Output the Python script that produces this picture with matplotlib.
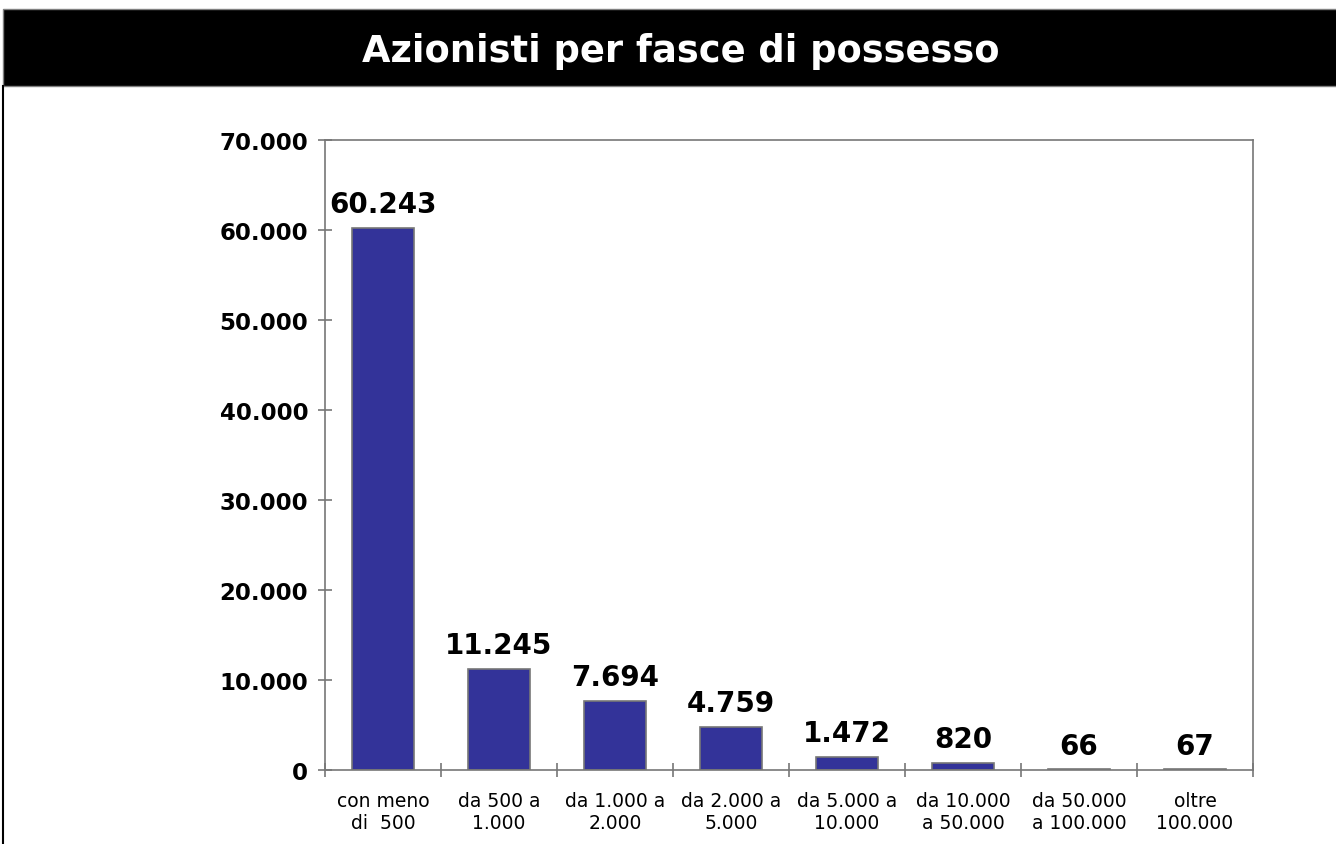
import matplotlib.pyplot as plt
import numpy as np
from matplotlib.patches import Rectangle
from matplotlib.lines import Line2D

categories = ["con meno\ndi  500", "da 500 a\n1.000", "da 1.000 a\n2.000", "da 2.000 a\n5.000",
              "da 5.000 a\n10.000", "da 10.000\na 50.000", "da 50.000\na 100.000", "oltre\n100.000"]
holders = [60243, 11245, 7694, 4759, 1472, 820, 66, 67]
y_ticks = [0, 10000, 20000, 30000, 40000, 50000, 60000, 70000]


def fmt_it(v):
    return f"{v:,}".replace(",", ".")


W, H = 1336, 845
fig = plt.figure(figsize=(W / 100, H / 100), dpi=100)
plt.rcParams['font.family'] = 'DejaVu Sans'

# title banner
fig.patches.append(Rectangle((3 / W, 1 - 87 / H), 1, 77 / H, transform=fig.transFigure,
                             facecolor='black', edgecolor='#808080', lw=1))
fig.text(681 / W, 1 - 51 / H, "Azionisti per fasce di possesso", color='white',
         fontsize=26.5, fontweight='bold', ha='center', va='center')
fig.lines.append(Line2D([3 / W, 3 / W], [0, 1 - 87 / H], transform=fig.transFigure,
                        color='black', lw=1.5))

ax = fig.add_axes([325 / W, 1 - 771 / H, (1253 - 325) / W, (771 - 141) / H])
x = np.arange(len(categories))
ax.bar(x, holders, width=0.53, color='#333399', edgecolor='#777777', lw=1.2)
for xi, v in zip(x, holders):
    ax.annotate(fmt_it(v), (xi, v), xytext=(0, 7), textcoords='offset points',
                ha='center', va='bottom', fontsize=20, fontweight='bold')

ax.set_xlim(-0.5, len(categories) - 0.5)
ax.set_ylim(0, 70000)
ax.set_yticks(y_ticks)
ax.set_yticklabels([fmt_it(t) for t in y_ticks], fontsize=16.5, fontweight='bold')
ax.set_xticks(np.arange(len(categories) + 1) - 0.5)
ax.set_xticklabels([])
ax.set_xticks(x, minor=True)
ax.set_xticklabels(categories, minor=True, fontsize=13.5)
ax.tick_params(axis='x', which='minor', length=0, pad=15)
ax.tick_params(axis='both', which='major', direction='inout', length=10, color='#777777', width=1.2)
ax.tick_params(axis='y', pad=7)
for s in ax.spines.values():
    s.set_color('#777777')
    s.set_linewidth(1.2)

fig.savefig("out.png", dpi=100)
